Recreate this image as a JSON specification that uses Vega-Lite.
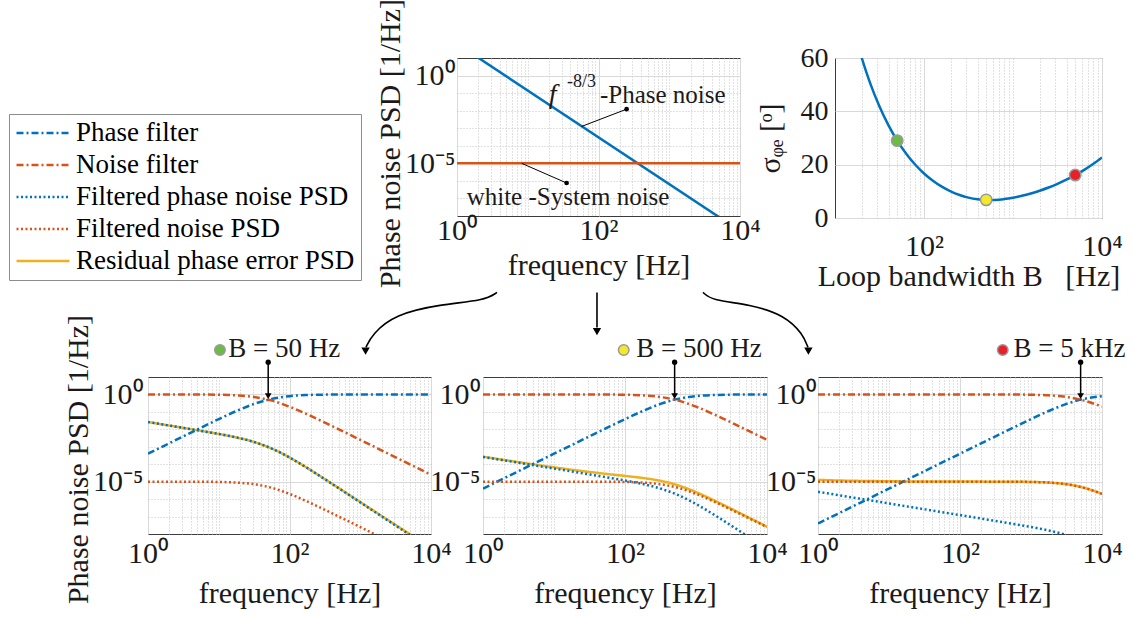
{
"$schema":"https://vega.github.io/schema/vega-lite/v6.json",
"autosize":{"type":"none"},
"padding":{"left":148,"top":58,"right":986,"bottom":560},
"background":"white",
"datasets":{
"topline":[
{"s":"phase","f":1,"psd":65.46},{"s":"phase","f":10000,"psd":1.41e-9},
{"s":"noise","f":1,"psd":1e-5},{"s":"noise","f":10000,"psd":1e-5}],
"sigma":[
{"B":17.78,"sd":65.8},{"B":19.95,"sd":60.1},{"B":22.39,"sd":54.9},{"B":25.12,"sd":50.1},{"B":31.62,"sd":41.8},{"B":39.81,"sd":34.8},{"B":50,"sd":29.0},{"B":63.1,"sd":24.1},{"B":79.43,"sd":20.05},{"B":100,"sd":16.7},{"B":125.9,"sd":13.98},{"B":158.5,"sd":11.75},{"B":199.5,"sd":9.98},{"B":251.2,"sd":8.62},{"B":316.2,"sd":7.64},{"B":398.1,"sd":7.03},{"B":500,"sd":6.76},{"B":631,"sd":6.79},{"B":794.3,"sd":7.09},{"B":1000,"sd":7.61},{"B":1259,"sd":8.32},{"B":1585,"sd":9.2},{"B":1995,"sd":10.24},{"B":2512,"sd":11.44},{"B":3162,"sd":12.81},{"B":3981,"sd":14.35},{"B":5000,"sd":16.07},{"B":6310,"sd":18.05},{"B":7943,"sd":20.24},{"B":10000,"sd":22.71}],
"sel":[{"B":50,"sd":29.0},{"B":500,"sd":6.8},{"B":5000,"sd":16.1}],
"notes":[
{"p":"top","k":"fsym","t":"f","f":22.5,"psd":0.0267},
{"p":"top","k":"sup","t":"-8/3","f":35.8,"psd":0.216},
{"p":"top","k":"txt","t":"-Phase noise","f":104.7,"psd":0.0267},
{"p":"top","k":"txt","t":"white -System noise","f":1.37,"psd":4.5e-8},
{"p":"top","k":"lead","f":249.5,"psd":0.01216,"f2":57.7,"psd2":0.00126},
{"p":"top","k":"lead","f":35.4,"psd":7.6e-7,"f2":8.2,"psd2":1e-5},
{"p":"top","k":"arc","id":"a","f":3.676,"psd":4.45e-13},
{"p":"top","k":"arc","id":"a","f":2.488,"psd":1.56e-13},
{"p":"top","k":"arc","id":"a","f":0.575,"psd":9.2e-14},
{"p":"top","k":"arc","id":"a","f":0.133,"psd":2.5e-14},
{"p":"top","k":"arc","id":"a","f":0.0629,"psd":1.82e-15},
{"p":"top","k":"arc","id":"a","f":0.0517,"psd":3.3e-16},
{"p":"top","k":"arc","id":"b","f":95.2,"psd":4.45e-13},
{"p":"top","k":"arc","id":"b","f":95.21,"psd":4.5e-15},
{"p":"top","k":"arc","id":"c","f":2999,"psd":4.45e-13},
{"p":"top","k":"arc","id":"c","f":4018,"psd":1.56e-13},
{"p":"top","k":"arc","id":"c","f":13840,"psd":9.2e-14},
{"p":"top","k":"arc","id":"c","f":43250,"psd":2.19e-14},
{"p":"top","k":"arc","id":"c","f":77660,"psd":1.82e-15},
{"p":"top","k":"arc","id":"c","f":91400,"psd":3.3e-16},
{"p":"top","k":"head","f":0.0510,"psd":2.0e-16},
{"p":"top","k":"head","f":95.2,"psd":2.6e-15},
{"p":"top","k":"head","f":92600,"psd":2.0e-16},
{"p":"b50","k":"txt","t":"B = 50 Hz","f":13.6,"psd":135},
{"p":"b50","k":"dot","B":50,"f":10.4,"psd":353},
{"p":"b50","k":"arrow","f":50,"psd":70,"psd2":0.81},
{"p":"b500","k":"txt","t":"B = 500 Hz","f":144.5,"psd":135},
{"p":"b500","k":"dot","B":500,"f":95.9,"psd":353},
{"p":"b500","k":"arrow","f":500,"psd":70,"psd2":0.81},
{"p":"b5000","k":"txt","t":"B = 5 kHz","f":566,"psd":135},
{"p":"b5000","k":"dot","B":5000,"f":400,"psd":353},
{"p":"b5000","k":"arrow","f":5000,"psd":70,"psd2":0.81}],
"curves":[
{"B":50,"s":"R","f":1,"psd":0.02618},{"B":50,"s":"R","f":1.778,"psd":0.01782},{"B":50,"s":"R","f":3.162,"psd":0.01212},{"B":50,"s":"R","f":5.623,"psd":0.008186},{"B":50,"s":"R","f":10,"psd":0.005433},{"B":50,"s":"R","f":17.78,"psd":0.003422},{"B":50,"s":"R","f":31.62,"psd":0.001877},{"B":50,"s":"R","f":56.23,"psd":0.0007919},{"B":50,"s":"R","f":100,"psd":0.0002451},{"B":50,"s":"R","f":177.8,"psd":6.139e-5},{"B":50,"s":"R","f":316.2,"psd":1.4e-5},{"B":50,"s":"R","f":562.3,"psd":3.093e-6},{"B":50,"s":"R","f":1000,"psd":6.779e-7},{"B":50,"s":"R","f":1778,"psd":1.488e-7},{"B":50,"s":"R","f":3162,"psd":3.288e-8},{"B":50,"s":"R","f":5623,"psd":7.336e-9},{"B":50,"s":"R","f":10000,"psd":1.66e-9},
{"B":50,"s":"PF","f":1,"psd":0.0003998},{"B":50,"s":"PF","f":1.778,"psd":0.001263},{"B":50,"s":"PF","f":3.162,"psd":0.003984},{"B":50,"s":"PF","f":5.623,"psd":0.01249},{"B":50,"s":"PF","f":10,"psd":0.03846},{"B":50,"s":"PF","f":17.78,"psd":0.1123},{"B":50,"s":"PF","f":31.62,"psd":0.2857},{"B":50,"s":"PF","f":56.23,"psd":0.5585},{"B":50,"s":"PF","f":100,"psd":0.8},{"B":50,"s":"PF","f":177.8,"psd":0.9267},{"B":50,"s":"PF","f":316.2,"psd":0.9756},{"B":50,"s":"PF","f":562.3,"psd":0.9922},{"B":50,"s":"PF","f":1000,"psd":0.9975},{"B":50,"s":"PF","f":1778,"psd":0.9992},{"B":50,"s":"PF","f":3162,"psd":0.9998},{"B":50,"s":"PF","f":5623,"psd":0.9999},{"B":50,"s":"PF","f":10000,"psd":1},
{"B":50,"s":"NF","f":1,"psd":0.9996},{"B":50,"s":"NF","f":1.778,"psd":0.9987},{"B":50,"s":"NF","f":3.162,"psd":0.996},{"B":50,"s":"NF","f":5.623,"psd":0.9875},{"B":50,"s":"NF","f":10,"psd":0.9615},{"B":50,"s":"NF","f":17.78,"psd":0.8877},{"B":50,"s":"NF","f":31.62,"psd":0.7143},{"B":50,"s":"NF","f":56.23,"psd":0.4415},{"B":50,"s":"NF","f":100,"psd":0.2},{"B":50,"s":"NF","f":177.8,"psd":0.07326},{"B":50,"s":"NF","f":316.2,"psd":0.02439},{"B":50,"s":"NF","f":562.3,"psd":0.007843},{"B":50,"s":"NF","f":1000,"psd":0.002494},{"B":50,"s":"NF","f":1778,"psd":0.0007899},{"B":50,"s":"NF","f":3162,"psd":0.0002499},{"B":50,"s":"NF","f":5623,"psd":7.905e-5},{"B":50,"s":"NF","f":10000,"psd":2.5e-5},
{"B":50,"s":"FP","f":1,"psd":0.02617},{"B":50,"s":"FP","f":1.778,"psd":0.01781},{"B":50,"s":"FP","f":3.162,"psd":0.01211},{"B":50,"s":"FP","f":5.623,"psd":0.008176},{"B":50,"s":"FP","f":10,"psd":0.005423},{"B":50,"s":"FP","f":17.78,"psd":0.003413},{"B":50,"s":"FP","f":31.62,"psd":0.00187},{"B":50,"s":"FP","f":56.23,"psd":0.0007875},{"B":50,"s":"FP","f":100,"psd":0.0002431},{"B":50,"s":"FP","f":177.8,"psd":6.066e-5},{"B":50,"s":"FP","f":316.2,"psd":1.376e-5},{"B":50,"s":"FP","f":562.3,"psd":3.015e-6},{"B":50,"s":"FP","f":1000,"psd":6.53e-7},{"B":50,"s":"FP","f":1778,"psd":1.409e-7},{"B":50,"s":"FP","f":3162,"psd":3.038e-8},{"B":50,"s":"FP","f":5623,"psd":6.545e-9},{"B":50,"s":"FP","f":10000,"psd":1.41e-9},
{"B":50,"s":"FN","f":1,"psd":9.996e-6},{"B":50,"s":"FN","f":1.778,"psd":9.987e-6},{"B":50,"s":"FN","f":3.162,"psd":9.96e-6},{"B":50,"s":"FN","f":5.623,"psd":9.875e-6},{"B":50,"s":"FN","f":10,"psd":9.615e-6},{"B":50,"s":"FN","f":17.78,"psd":8.877e-6},{"B":50,"s":"FN","f":31.62,"psd":7.143e-6},{"B":50,"s":"FN","f":56.23,"psd":4.415e-6},{"B":50,"s":"FN","f":100,"psd":2e-6},{"B":50,"s":"FN","f":177.8,"psd":7.326e-7},{"B":50,"s":"FN","f":316.2,"psd":2.439e-7},{"B":50,"s":"FN","f":562.3,"psd":7.843e-8},{"B":50,"s":"FN","f":1000,"psd":2.494e-8},{"B":50,"s":"FN","f":1778,"psd":7.899e-9},{"B":50,"s":"FN","f":3162,"psd":2.499e-9},{"B":50,"s":"FN","f":5623,"psd":7.905e-10},{"B":50,"s":"FN","f":10000,"psd":2.5e-10},
{"B":500,"s":"R","f":1,"psd":0.0002718},{"B":500,"s":"R","f":1.778,"psd":0.0001884},{"B":500,"s":"R","f":3.162,"psd":0.0001316},{"B":500,"s":"R","f":5.623,"psd":9.281e-5},{"B":500,"s":"R","f":10,"psd":6.637e-5},{"B":500,"s":"R","f":17.78,"psd":4.837e-5},{"B":500,"s":"R","f":31.62,"psd":3.604e-5},{"B":500,"s":"R","f":56.23,"psd":2.749e-5},{"B":500,"s":"R","f":100,"psd":2.131e-5},{"B":500,"s":"R","f":177.8,"psd":1.623e-5},{"B":500,"s":"R","f":316.2,"psd":1.117e-5},{"B":500,"s":"R","f":562.3,"psd":6.112e-6},{"B":500,"s":"R","f":1000,"psd":2.524e-6},{"B":500,"s":"R","f":1778,"psd":8.633e-7},{"B":500,"s":"R","f":3162,"psd":2.736e-7},{"B":500,"s":"R","f":5623,"psd":8.493e-8},{"B":500,"s":"R","f":10000,"psd":2.635e-8},
{"B":500,"s":"PF","f":1,"psd":4e-6},{"B":500,"s":"PF","f":1.778,"psd":1.265e-5},{"B":500,"s":"PF","f":3.162,"psd":4e-5},{"B":500,"s":"PF","f":5.623,"psd":0.0001265},{"B":500,"s":"PF","f":10,"psd":0.0003998},{"B":500,"s":"PF","f":17.78,"psd":0.001263},{"B":500,"s":"PF","f":31.62,"psd":0.003984},{"B":500,"s":"PF","f":56.23,"psd":0.01249},{"B":500,"s":"PF","f":100,"psd":0.03846},{"B":500,"s":"PF","f":177.8,"psd":0.1123},{"B":500,"s":"PF","f":316.2,"psd":0.2857},{"B":500,"s":"PF","f":562.3,"psd":0.5585},{"B":500,"s":"PF","f":1000,"psd":0.8},{"B":500,"s":"PF","f":1778,"psd":0.9267},{"B":500,"s":"PF","f":3162,"psd":0.9756},{"B":500,"s":"PF","f":5623,"psd":0.9922},{"B":500,"s":"PF","f":10000,"psd":0.9975},
{"B":500,"s":"NF","f":1,"psd":1},{"B":500,"s":"NF","f":1.778,"psd":1},{"B":500,"s":"NF","f":3.162,"psd":1},{"B":500,"s":"NF","f":5.623,"psd":0.9999},{"B":500,"s":"NF","f":10,"psd":0.9996},{"B":500,"s":"NF","f":17.78,"psd":0.9987},{"B":500,"s":"NF","f":31.62,"psd":0.996},{"B":500,"s":"NF","f":56.23,"psd":0.9875},{"B":500,"s":"NF","f":100,"psd":0.9615},{"B":500,"s":"NF","f":177.8,"psd":0.8877},{"B":500,"s":"NF","f":316.2,"psd":0.7143},{"B":500,"s":"NF","f":562.3,"psd":0.4415},{"B":500,"s":"NF","f":1000,"psd":0.2},{"B":500,"s":"NF","f":1778,"psd":0.07326},{"B":500,"s":"NF","f":3162,"psd":0.02439},{"B":500,"s":"NF","f":5623,"psd":0.007843},{"B":500,"s":"NF","f":10000,"psd":0.002494},
{"B":500,"s":"FP","f":1,"psd":0.0002618},{"B":500,"s":"FP","f":1.778,"psd":0.0001784},{"B":500,"s":"FP","f":3.162,"psd":0.0001216},{"B":500,"s":"FP","f":5.623,"psd":8.281e-5},{"B":500,"s":"FP","f":10,"psd":5.637e-5},{"B":500,"s":"FP","f":17.78,"psd":3.838e-5},{"B":500,"s":"FP","f":31.62,"psd":2.608e-5},{"B":500,"s":"FP","f":56.23,"psd":1.761e-5},{"B":500,"s":"FP","f":100,"psd":1.169e-5},{"B":500,"s":"FP","f":177.8,"psd":7.351e-6},{"B":500,"s":"FP","f":316.2,"psd":4.028e-6},{"B":500,"s":"FP","f":562.3,"psd":1.697e-6},{"B":500,"s":"FP","f":1000,"psd":5.237e-7},{"B":500,"s":"FP","f":1778,"psd":1.307e-7},{"B":500,"s":"FP","f":3162,"psd":2.965e-8},{"B":500,"s":"FP","f":5623,"psd":6.495e-9},{"B":500,"s":"FP","f":10000,"psd":1.406e-9},
{"B":500,"s":"FN","f":1,"psd":1e-5},{"B":500,"s":"FN","f":1.778,"psd":1e-5},{"B":500,"s":"FN","f":3.162,"psd":1e-5},{"B":500,"s":"FN","f":5.623,"psd":9.999e-6},{"B":500,"s":"FN","f":10,"psd":9.996e-6},{"B":500,"s":"FN","f":17.78,"psd":9.987e-6},{"B":500,"s":"FN","f":31.62,"psd":9.96e-6},{"B":500,"s":"FN","f":56.23,"psd":9.875e-6},{"B":500,"s":"FN","f":100,"psd":9.615e-6},{"B":500,"s":"FN","f":177.8,"psd":8.877e-6},{"B":500,"s":"FN","f":316.2,"psd":7.143e-6},{"B":500,"s":"FN","f":562.3,"psd":4.415e-6},{"B":500,"s":"FN","f":1000,"psd":2e-6},{"B":500,"s":"FN","f":1778,"psd":7.326e-7},{"B":500,"s":"FN","f":3162,"psd":2.439e-7},{"B":500,"s":"FN","f":5623,"psd":7.843e-8},{"B":500,"s":"FN","f":10000,"psd":2.494e-8},
{"B":5000,"s":"R","f":1,"psd":1.262e-5},{"B":5000,"s":"R","f":1.778,"psd":1.178e-5},{"B":5000,"s":"R","f":3.162,"psd":1.122e-5},{"B":5000,"s":"R","f":5.623,"psd":1.083e-5},{"B":5000,"s":"R","f":10,"psd":1.056e-5},{"B":5000,"s":"R","f":17.78,"psd":1.038e-5},{"B":5000,"s":"R","f":31.62,"psd":1.026e-5},{"B":5000,"s":"R","f":56.23,"psd":1.018e-5},{"B":5000,"s":"R","f":100,"psd":1.012e-5},{"B":5000,"s":"R","f":177.8,"psd":1.007e-5},{"B":5000,"s":"R","f":316.2,"psd":1.002e-5},{"B":5000,"s":"R","f":562.3,"psd":9.913e-6},{"B":5000,"s":"R","f":1000,"psd":9.64e-6},{"B":5000,"s":"R","f":1778,"psd":8.893e-6},{"B":5000,"s":"R","f":3162,"psd":7.152e-6},{"B":5000,"s":"R","f":5623,"psd":4.419e-6},{"B":5000,"s":"R","f":10000,"psd":2.001e-6},
{"B":5000,"s":"PF","f":1,"psd":4e-8},{"B":5000,"s":"PF","f":1.778,"psd":1.265e-7},{"B":5000,"s":"PF","f":3.162,"psd":4e-7},{"B":5000,"s":"PF","f":5.623,"psd":1.265e-6},{"B":5000,"s":"PF","f":10,"psd":4e-6},{"B":5000,"s":"PF","f":17.78,"psd":1.265e-5},{"B":5000,"s":"PF","f":31.62,"psd":4e-5},{"B":5000,"s":"PF","f":56.23,"psd":0.0001265},{"B":5000,"s":"PF","f":100,"psd":0.0003998},{"B":5000,"s":"PF","f":177.8,"psd":0.001263},{"B":5000,"s":"PF","f":316.2,"psd":0.003984},{"B":5000,"s":"PF","f":562.3,"psd":0.01249},{"B":5000,"s":"PF","f":1000,"psd":0.03846},{"B":5000,"s":"PF","f":1778,"psd":0.1123},{"B":5000,"s":"PF","f":3162,"psd":0.2857},{"B":5000,"s":"PF","f":5623,"psd":0.5585},{"B":5000,"s":"PF","f":10000,"psd":0.8},
{"B":5000,"s":"NF","f":1,"psd":1},{"B":5000,"s":"NF","f":1.778,"psd":1},{"B":5000,"s":"NF","f":3.162,"psd":1},{"B":5000,"s":"NF","f":5.623,"psd":1},{"B":5000,"s":"NF","f":10,"psd":1},{"B":5000,"s":"NF","f":17.78,"psd":1},{"B":5000,"s":"NF","f":31.62,"psd":1},{"B":5000,"s":"NF","f":56.23,"psd":0.9999},{"B":5000,"s":"NF","f":100,"psd":0.9996},{"B":5000,"s":"NF","f":177.8,"psd":0.9987},{"B":5000,"s":"NF","f":316.2,"psd":0.996},{"B":5000,"s":"NF","f":562.3,"psd":0.9875},{"B":5000,"s":"NF","f":1000,"psd":0.9615},{"B":5000,"s":"NF","f":1778,"psd":0.8877},{"B":5000,"s":"NF","f":3162,"psd":0.7143},{"B":5000,"s":"NF","f":5623,"psd":0.4415},{"B":5000,"s":"NF","f":10000,"psd":0.2},
{"B":5000,"s":"FP","f":1,"psd":2.618e-6},{"B":5000,"s":"FP","f":1.778,"psd":1.784e-6},{"B":5000,"s":"FP","f":3.162,"psd":1.216e-6},{"B":5000,"s":"FP","f":5.623,"psd":8.281e-7},{"B":5000,"s":"FP","f":10,"psd":5.64e-7},{"B":5000,"s":"FP","f":17.78,"psd":3.844e-7},{"B":5000,"s":"FP","f":31.62,"psd":2.618e-7},{"B":5000,"s":"FP","f":56.23,"psd":1.784e-7},{"B":5000,"s":"FP","f":100,"psd":1.215e-7},{"B":5000,"s":"FP","f":177.8,"psd":8.268e-8},{"B":5000,"s":"FP","f":316.2,"psd":5.617e-8},{"B":5000,"s":"FP","f":562.3,"psd":3.796e-8},{"B":5000,"s":"FP","f":1000,"psd":2.518e-8},{"B":5000,"s":"FP","f":1778,"psd":1.583e-8},{"B":5000,"s":"FP","f":3162,"psd":8.683e-9},{"B":5000,"s":"FP","f":5623,"psd":3.656e-9},{"B":5000,"s":"FP","f":10000,"psd":1.128e-9},
{"B":5000,"s":"FN","f":1,"psd":1e-5},{"B":5000,"s":"FN","f":1.778,"psd":1e-5},{"B":5000,"s":"FN","f":3.162,"psd":1e-5},{"B":5000,"s":"FN","f":5.623,"psd":1e-5},{"B":5000,"s":"FN","f":10,"psd":1e-5},{"B":5000,"s":"FN","f":17.78,"psd":1e-5},{"B":5000,"s":"FN","f":31.62,"psd":1e-5},{"B":5000,"s":"FN","f":56.23,"psd":9.999e-6},{"B":5000,"s":"FN","f":100,"psd":9.996e-6},{"B":5000,"s":"FN","f":177.8,"psd":9.987e-6},{"B":5000,"s":"FN","f":316.2,"psd":9.96e-6},{"B":5000,"s":"FN","f":562.3,"psd":9.875e-6},{"B":5000,"s":"FN","f":1000,"psd":9.615e-6},{"B":5000,"s":"FN","f":1778,"psd":8.877e-6},{"B":5000,"s":"FN","f":3162,"psd":7.143e-6},{"B":5000,"s":"FN","f":5623,"psd":4.415e-6},{"B":5000,"s":"FN","f":10000,"psd":2e-6}
]},
"bounds":"flush",
"spacing":319,
"resolve":{"scale":{"x":"independent","y":"independent","color":"independent","strokeDash":"independent","fill":"independent"}},
"vconcat":[
{"bounds":"flush","spacing":0,
 "resolve":{"scale":{"x":"independent","y":"independent","color":"independent","strokeDash":"independent","fill":"independent"}},
 "hconcat":[
{"width":309,"height":160,"view":{"stroke":null},"data":{"values":[{"a":1}]},"mark":{"type":"point","opacity":0}},
{"width":283,"height":158,
 "resolve":{"axis":{"x":"independent","y":"independent"}},
 "layer":[
  {"data":{"name":"topline"},"transform":[{"filter":"datum.s == 'phase'"}],
   "mark":{"type":"line","color":"#0072BD","strokeWidth":2.5,"clip":true},
   "encoding":{
    "x":{"field":"f","type":"quantitative","scale":{"type":"log","domain":[1,10000],"nice":false},
     "axis":{"orient":"bottom","values":[1,100,10000],"labelExpr":"datum.value < 10 ? '10⁰' : (datum.value < 1000 ? '10²' : '10⁴')","grid":true,"labelBaseline":"alphabetic","labelPadding":23.5,"title":"frequency [Hz]","titleBaseline":"alphabetic","titleY":58}},
    "y":{"field":"psd","type":"quantitative","scale":{"type":"log","domain":[1e-8,10],"nice":false},
     "axis":{"orient":"left","values":[1,1e-5],"labelExpr":"datum.value > 0.1 ? '10⁰' : '10⁻⁵'","grid":true,"labelPadding":2,"title":"Phase noise PSD [1/Hz]","titleX":-67,"titleY":85,"titleBaseline":"middle"}}}},
  {"data":{"name":"topline"},"transform":[{"filter":"datum.s == 'noise'"}],
   "mark":{"type":"line","color":"#D95319","strokeWidth":2.5,"clip":true},
   "encoding":{
    "x":{"field":"f","type":"quantitative","axis":{"orient":"bottom","values":[2,3,4,5,6,7,8,9,10,20,30,40,50,60,70,80,90,200,300,400,500,600,700,800,900,1000,2000,3000,4000,5000,6000,7000,8000,9000],"grid":true,"gridDash":[1,2],"gridColor":"#c4c4c4","labels":false,"title":null}},
    "y":{"field":"psd","type":"quantitative","axis":{"orient":"left","values":[1e-7,1e-6,1e-4,1e-3,0.01,0.1],"grid":true,"gridDash":[1,2],"gridColor":"#c4c4c4","labels":false,"title":null}}}},
  {"data":{"name":"notes"},"transform":[{"filter":"datum.p == 'top' && datum.k == 'lead'"}],
   "mark":{"type":"rule","color":"black","strokeWidth":1},
   "encoding":{"x":{"field":"f","type":"quantitative","axis":null},"y":{"field":"psd","type":"quantitative","axis":null},"x2":{"field":"f2"},"y2":{"field":"psd2"}}},
  {"data":{"name":"notes"},"transform":[{"filter":"datum.p == 'top' && datum.k == 'lead'"}],
   "mark":{"type":"point","filled":true,"color":"black","size":22,"opacity":1},
   "encoding":{"x":{"field":"f","type":"quantitative","axis":null},"y":{"field":"psd","type":"quantitative","axis":null}}},
  {"data":{"name":"notes"},"transform":[{"filter":"datum.p == 'top' && datum.k == 'arc'"}],
   "mark":{"type":"line","color":"black","strokeWidth":1.6,"interpolate":"basis","clip":false},
   "encoding":{"x":{"field":"f","type":"quantitative","axis":null},"y":{"field":"psd","type":"quantitative","axis":null},"detail":{"field":"id"}}},
  {"data":{"name":"notes"},"transform":[{"filter":"datum.p == 'top' && datum.k == 'head'"}],
   "mark":{"type":"point","filled":true,"color":"black","size":70,"shape":"triangle-down","opacity":1},
   "encoding":{"x":{"field":"f","type":"quantitative","axis":null},"y":{"field":"psd","type":"quantitative","axis":null}}},
  {"data":{"name":"notes"},"transform":[{"filter":"datum.p == 'top' && datum.k == 'txt'"}],
   "mark":{"type":"text","align":"left","baseline":"alphabetic","fontSize":25,"font":"Liberation Serif","color":"#1a1a1a"},
   "encoding":{"x":{"field":"f","type":"quantitative","axis":null},"y":{"field":"psd","type":"quantitative","axis":null},"text":{"field":"t"}}},
  {"data":{"name":"notes"},"transform":[{"filter":"datum.p == 'top' && datum.k == 'fsym'"}],
   "mark":{"type":"text","align":"center","baseline":"alphabetic","fontSize":28,"fontStyle":"italic","font":"Liberation Serif","color":"#1a1a1a"},
   "encoding":{"x":{"field":"f","type":"quantitative","axis":null},"y":{"field":"psd","type":"quantitative","axis":null},"text":{"field":"t"}}},
  {"data":{"name":"notes"},"transform":[{"filter":"datum.p == 'top' && datum.k == 'sup'"}],
   "mark":{"type":"text","align":"left","baseline":"alphabetic","fontSize":18,"font":"Liberation Serif","color":"#1a1a1a"},
   "encoding":{"x":{"field":"f","type":"quantitative","axis":null},"y":{"field":"psd","type":"quantitative","axis":null},"text":{"field":"t"}}}
 ]},
{"width":95,"height":160,"view":{"stroke":null},"data":{"values":[{"a":1}]},"mark":{"type":"point","opacity":0}},
{"width":267,"height":160,
 "resolve":{"axis":{"x":"independent","y":"independent"}},
 "layer":[
  {"data":{"name":"sigma"},
   "mark":{"type":"line","color":"#0072BD","strokeWidth":2.5,"clip":true,"interpolate":"monotone"},
   "encoding":{
    "x":{"field":"B","type":"quantitative","scale":{"type":"log","domain":[10,10000],"nice":false},
     "axis":{"orient":"bottom","values":[100,10000],"labelExpr":"datum.value < 1000 ? '10²' : '10⁴'","grid":true,"labelBaseline":"alphabetic","labelPadding":37,"title":"Loop bandwidth B\u2002 [Hz]","titleBaseline":"alphabetic","titleY":67}},
    "y":{"field":"sd","type":"quantitative","scale":{"domain":[0,60],"nice":false,"zero":false},
     "axis":{"orient":"left","values":[0,20,40,60],"grid":true,"labelPadding":7,"labelFontSize":28,"title":"σᵩₑ [ᵒ]","titleX":-65,"titleBaseline":"middle"}}}},
  {"data":{"name":"sel"},
   "mark":{"type":"point","filled":true,"size":130,"stroke":"#9a9a9a","strokeWidth":1.5,"opacity":1},
   "encoding":{
    "x":{"field":"B","type":"quantitative","axis":{"orient":"bottom","values":[20,30,40,50,60,70,80,90,200,300,400,500,600,700,800,900,1000,2000,3000,4000,5000,6000,7000,8000,9000],"grid":true,"gridDash":[1,2],"gridColor":"#c4c4c4","labels":false,"title":null}},
    "y":{"field":"sd","type":"quantitative","axis":null},
    "fill":{"field":"B","type":"nominal","scale":{"domain":[50,500,5000],"range":["#6cbb45","#f2e92a","#e8202a"]},"legend":null}}}
 ]}
]},
{"bounds":"flush","spacing":0,
 "resolve":{"scale":{"x":"independent","y":"independent","color":"independent","strokeDash":"independent","fill":"independent"}},
 "hconcat":[
{"width":283,"height":157,
 "resolve":{"axis":{"x":"independent","y":"independent"}},
 "layer":[
  {"data":{"name":"curves"},"transform":[{"filter":"datum.B == 50"}],
   "mark":{"type":"line","strokeWidth":2.5,"clip":true,"interpolate":"monotone"},
   "encoding":{
    "x":{"field":"f","type":"quantitative","scale":{"type":"log","domain":[1,10000],"nice":false},
     "axis":{"orient":"bottom","values":[1,100,10000],"labelExpr":"datum.value < 10 ? '10⁰' : (datum.value < 1000 ? '10²' : '10⁴')","grid":true,"labelBaseline":"alphabetic","labelPadding":28.5,"title":"frequency [Hz]","titleBaseline":"alphabetic","titleY":68}},
    "y":{"field":"psd","type":"quantitative","scale":{"type":"log","domain":[1e-8,10],"nice":false},
     "axis":{"orient":"left","values":[1,1e-5],"labelExpr":"datum.value > 0.1 ? '10⁰' : '10⁻⁵'","grid":true,"labelPadding":5,"title":"Phase noise PSD [1/Hz]","titleX":-70,"titleY":82,"titleBaseline":"middle"}},
    "color":{"field":"s","type":"nominal","scale":{"domain":["PF","NF","FP","FN","R"],"range":["#0072BD","#D95319","#0072BD","#D95319","#EDB120"]},
     "legend":{"orient":"none","legendX":-139,"legendY":-263,"title":null,"symbolType":"stroke","symbolSize":2809,"symbolStrokeWidth":2.5,"labelFontSize":27,"labelFont":"Liberation Serif","labelColor":"black","labelLimit":600,"labelOffset":5,"rowPadding":5,"padding":6,"strokeColor":"#8c8c8c","fillColor":"white","clipHeight":26,
      "labelExpr":"datum.label == 'PF' ? 'Phase filter' : datum.label == 'NF' ? 'Noise filter' : datum.label == 'FP' ? 'Filtered phase noise PSD' : datum.label == 'FN' ? 'Filtered noise PSD' : 'Residual phase error PSD'"}},
    "strokeDash":{"field":"s","type":"nominal","scale":{"domain":["PF","NF","FP","FN","R"],"range":[[7,3,2,3],[7,3,2,3],[2,2.5],[2,2.5],[1,0]]},
     "legend":{"orient":"none","legendX":-139,"legendY":-263,"title":null,"symbolType":"stroke","symbolSize":2809,"symbolStrokeWidth":2.5,"labelFontSize":27,"labelFont":"Liberation Serif","labelColor":"black","labelLimit":600,"labelOffset":5,"rowPadding":5,"padding":6,"strokeColor":"#8c8c8c","fillColor":"white","clipHeight":26,
      "labelExpr":"datum.label == 'PF' ? 'Phase filter' : datum.label == 'NF' ? 'Noise filter' : datum.label == 'FP' ? 'Filtered phase noise PSD' : datum.label == 'FN' ? 'Filtered noise PSD' : 'Residual phase error PSD'"}}}},
  {"data":{"name":"notes"},"transform":[{"filter":"datum.p == 'b50' && datum.k == 'arrow'"}],
   "mark":{"type":"rule","color":"black","strokeWidth":1.5},
   "encoding":{
    "x":{"field":"f","type":"quantitative","axis":{"orient":"bottom","values":[2,3,4,5,6,7,8,9,10,20,30,40,50,60,70,80,90,200,300,400,500,600,700,800,900,1000,2000,3000,4000,5000,6000,7000,8000,9000],"grid":true,"gridDash":[1,2],"gridColor":"#c4c4c4","labels":false,"title":null}},
    "y":{"field":"psd","type":"quantitative","axis":{"orient":"left","values":[1e-7,1e-6,1e-4,1e-3,0.01,0.1],"grid":true,"gridDash":[1,2],"gridColor":"#c4c4c4","labels":false,"title":null}},
    "y2":{"field":"psd2"}}},
  {"data":{"name":"notes"},"transform":[{"filter":"datum.p == 'b50' && datum.k == 'arrow'"}],
   "mark":{"type":"point","filled":true,"color":"black","size":28,"opacity":1},
   "encoding":{"x":{"field":"f","type":"quantitative","axis":null},"y":{"field":"psd","type":"quantitative","axis":null}}},
  {"data":{"name":"notes"},"transform":[{"filter":"datum.p == 'b50' && datum.k == 'arrow'"}],
   "mark":{"type":"point","filled":true,"color":"black","size":45,"shape":"triangle-down","opacity":1},
   "encoding":{"x":{"field":"f","type":"quantitative","axis":null},"y":{"field":"psd2","type":"quantitative","axis":null}}},
  {"data":{"name":"notes"},"transform":[{"filter":"datum.p == 'b50' && datum.k == 'dot'"}],
   "mark":{"type":"point","filled":true,"size":110,"stroke":"#9a9a9a","strokeWidth":1.5,"opacity":1},
   "encoding":{"x":{"field":"f","type":"quantitative","axis":null},"y":{"field":"psd","type":"quantitative","axis":null},
    "fill":{"field":"B","type":"nominal","scale":{"domain":[50,500,5000],"range":["#6cbb45","#f2e92a","#e8202a"]},"legend":null}}},
  {"data":{"name":"notes"},"transform":[{"filter":"datum.p == 'b50' && datum.k == 'txt'"}],
   "mark":{"type":"text","align":"left","baseline":"alphabetic","fontSize":27,"font":"Liberation Serif","color":"#1a1a1a"},
   "encoding":{"x":{"field":"f","type":"quantitative","axis":null},"y":{"field":"psd","type":"quantitative","axis":null},"text":{"field":"t"}}}
 ]},
{"width":52,"height":157,"view":{"stroke":null},"data":{"values":[{"a":1}]},"mark":{"type":"point","opacity":0}},
{"width":284,"height":157,
 "resolve":{"axis":{"x":"independent","y":"independent"}},
 "layer":[
  {"data":{"name":"curves"},"transform":[{"filter":"datum.B == 500"}],
   "mark":{"type":"line","strokeWidth":2.5,"clip":true,"interpolate":"monotone"},
   "encoding":{
    "x":{"field":"f","type":"quantitative","scale":{"type":"log","domain":[1,10000],"nice":false},
     "axis":{"orient":"bottom","values":[1,100,10000],"labelExpr":"datum.value < 10 ? '10⁰' : (datum.value < 1000 ? '10²' : '10⁴')","grid":true,"labelBaseline":"alphabetic","labelPadding":28.5,"title":"frequency [Hz]","titleBaseline":"alphabetic","titleY":68}},
    "y":{"field":"psd","type":"quantitative","scale":{"type":"log","domain":[1e-8,10],"nice":false},
     "axis":{"orient":"left","values":[1,1e-5],"labelExpr":"datum.value > 0.1 ? '10⁰' : '10⁻⁵'","grid":true,"labelPadding":3,"title":null}},
    "color":{"field":"s","type":"nominal","scale":{"domain":["PF","NF","FP","FN","R"],"range":["#0072BD","#D95319","#0072BD","#D95319","#EDB120"]},"legend":null},
    "strokeDash":{"field":"s","type":"nominal","scale":{"domain":["PF","NF","FP","FN","R"],"range":[[7,3,2,3],[7,3,2,3],[2,2.5],[2,2.5],[1,0]]},"legend":null}}},
  {"data":{"name":"notes"},"transform":[{"filter":"datum.p == 'b500' && datum.k == 'arrow'"}],
   "mark":{"type":"rule","color":"black","strokeWidth":1.5},
   "encoding":{
    "x":{"field":"f","type":"quantitative","axis":{"orient":"bottom","values":[2,3,4,5,6,7,8,9,10,20,30,40,50,60,70,80,90,200,300,400,500,600,700,800,900,1000,2000,3000,4000,5000,6000,7000,8000,9000],"grid":true,"gridDash":[1,2],"gridColor":"#c4c4c4","labels":false,"title":null}},
    "y":{"field":"psd","type":"quantitative","axis":{"orient":"left","values":[1e-7,1e-6,1e-4,1e-3,0.01,0.1],"grid":true,"gridDash":[1,2],"gridColor":"#c4c4c4","labels":false,"title":null}},
    "y2":{"field":"psd2"}}},
  {"data":{"name":"notes"},"transform":[{"filter":"datum.p == 'b500' && datum.k == 'arrow'"}],
   "mark":{"type":"point","filled":true,"color":"black","size":28,"opacity":1},
   "encoding":{"x":{"field":"f","type":"quantitative","axis":null},"y":{"field":"psd","type":"quantitative","axis":null}}},
  {"data":{"name":"notes"},"transform":[{"filter":"datum.p == 'b500' && datum.k == 'arrow'"}],
   "mark":{"type":"point","filled":true,"color":"black","size":45,"shape":"triangle-down","opacity":1},
   "encoding":{"x":{"field":"f","type":"quantitative","axis":null},"y":{"field":"psd2","type":"quantitative","axis":null}}},
  {"data":{"name":"notes"},"transform":[{"filter":"datum.p == 'b500' && datum.k == 'dot'"}],
   "mark":{"type":"point","filled":true,"size":110,"stroke":"#9a9a9a","strokeWidth":1.5,"opacity":1},
   "encoding":{"x":{"field":"f","type":"quantitative","axis":null},"y":{"field":"psd","type":"quantitative","axis":null},
    "fill":{"field":"B","type":"nominal","scale":{"domain":[50,500,5000],"range":["#6cbb45","#f2e92a","#e8202a"]},"legend":null}}},
  {"data":{"name":"notes"},"transform":[{"filter":"datum.p == 'b500' && datum.k == 'txt'"}],
   "mark":{"type":"text","align":"left","baseline":"alphabetic","fontSize":27,"font":"Liberation Serif","color":"#1a1a1a"},
   "encoding":{"x":{"field":"f","type":"quantitative","axis":null},"y":{"field":"psd","type":"quantitative","axis":null},"text":{"field":"t"}}}
 ]},
{"width":51,"height":157,"view":{"stroke":null},"data":{"values":[{"a":1}]},"mark":{"type":"point","opacity":0}},
{"width":284,"height":157,
 "resolve":{"axis":{"x":"independent","y":"independent"}},
 "layer":[
  {"data":{"name":"curves"},"transform":[{"filter":"datum.B == 5000"}],
   "mark":{"type":"line","strokeWidth":2.5,"clip":true,"interpolate":"monotone"},
   "encoding":{
    "x":{"field":"f","type":"quantitative","scale":{"type":"log","domain":[1,10000],"nice":false},
     "axis":{"orient":"bottom","values":[1,100,10000],"labelExpr":"datum.value < 10 ? '10⁰' : (datum.value < 1000 ? '10²' : '10⁴')","grid":true,"labelBaseline":"alphabetic","labelPadding":28.5,"title":"frequency [Hz]","titleBaseline":"alphabetic","titleY":68}},
    "y":{"field":"psd","type":"quantitative","scale":{"type":"log","domain":[1e-8,10],"nice":false},
     "axis":{"orient":"left","values":[1,1e-5],"labelExpr":"datum.value > 0.1 ? '10⁰' : '10⁻⁵'","grid":true,"labelPadding":2,"title":null}},
    "color":{"field":"s","type":"nominal","scale":{"domain":["PF","NF","FP","FN","R"],"range":["#0072BD","#D95319","#0072BD","#D95319","#EDB120"]},"legend":null},
    "strokeDash":{"field":"s","type":"nominal","scale":{"domain":["PF","NF","FP","FN","R"],"range":[[7,3,2,3],[7,3,2,3],[2,2.5],[2,2.5],[1,0]]},"legend":null}}},
  {"data":{"name":"notes"},"transform":[{"filter":"datum.p == 'b5000' && datum.k == 'arrow'"}],
   "mark":{"type":"rule","color":"black","strokeWidth":1.5},
   "encoding":{
    "x":{"field":"f","type":"quantitative","axis":{"orient":"bottom","values":[2,3,4,5,6,7,8,9,10,20,30,40,50,60,70,80,90,200,300,400,500,600,700,800,900,1000,2000,3000,4000,5000,6000,7000,8000,9000],"grid":true,"gridDash":[1,2],"gridColor":"#c4c4c4","labels":false,"title":null}},
    "y":{"field":"psd","type":"quantitative","axis":{"orient":"left","values":[1e-7,1e-6,1e-4,1e-3,0.01,0.1],"grid":true,"gridDash":[1,2],"gridColor":"#c4c4c4","labels":false,"title":null}},
    "y2":{"field":"psd2"}}},
  {"data":{"name":"notes"},"transform":[{"filter":"datum.p == 'b5000' && datum.k == 'arrow'"}],
   "mark":{"type":"point","filled":true,"color":"black","size":28,"opacity":1},
   "encoding":{"x":{"field":"f","type":"quantitative","axis":null},"y":{"field":"psd","type":"quantitative","axis":null}}},
  {"data":{"name":"notes"},"transform":[{"filter":"datum.p == 'b5000' && datum.k == 'arrow'"}],
   "mark":{"type":"point","filled":true,"color":"black","size":45,"shape":"triangle-down","opacity":1},
   "encoding":{"x":{"field":"f","type":"quantitative","axis":null},"y":{"field":"psd2","type":"quantitative","axis":null}}},
  {"data":{"name":"notes"},"transform":[{"filter":"datum.p == 'b5000' && datum.k == 'dot'"}],
   "mark":{"type":"point","filled":true,"size":110,"stroke":"#9a9a9a","strokeWidth":1.5,"opacity":1},
   "encoding":{"x":{"field":"f","type":"quantitative","axis":null},"y":{"field":"psd","type":"quantitative","axis":null},
    "fill":{"field":"B","type":"nominal","scale":{"domain":[50,500,5000],"range":["#6cbb45","#f2e92a","#e8202a"]},"legend":null}}},
  {"data":{"name":"notes"},"transform":[{"filter":"datum.p == 'b5000' && datum.k == 'txt'"}],
   "mark":{"type":"text","align":"left","baseline":"alphabetic","fontSize":27,"font":"Liberation Serif","color":"#1a1a1a"},
   "encoding":{"x":{"field":"f","type":"quantitative","axis":null},"y":{"field":"psd","type":"quantitative","axis":null},"text":{"field":"t"}}}
 ]}
]}
],
"config":{
 "font":"Liberation Serif",
 "view":{"stroke":"#3c3c3c","strokeWidth":1},
 "axis":{"labelFont":"Liberation Serif","titleFont":"Liberation Serif","labelColor":"#1a1a1a","titleColor":"#1a1a1a","titleFontWeight":"normal","labelFontSize":30,"titleFontSize":30,"ticks":false,"tickSize":0,"domain":false,"labelFlush":false,"labelOverlap":false,"gridColor":"#d9d9d9","gridWidth":1}
}
}
